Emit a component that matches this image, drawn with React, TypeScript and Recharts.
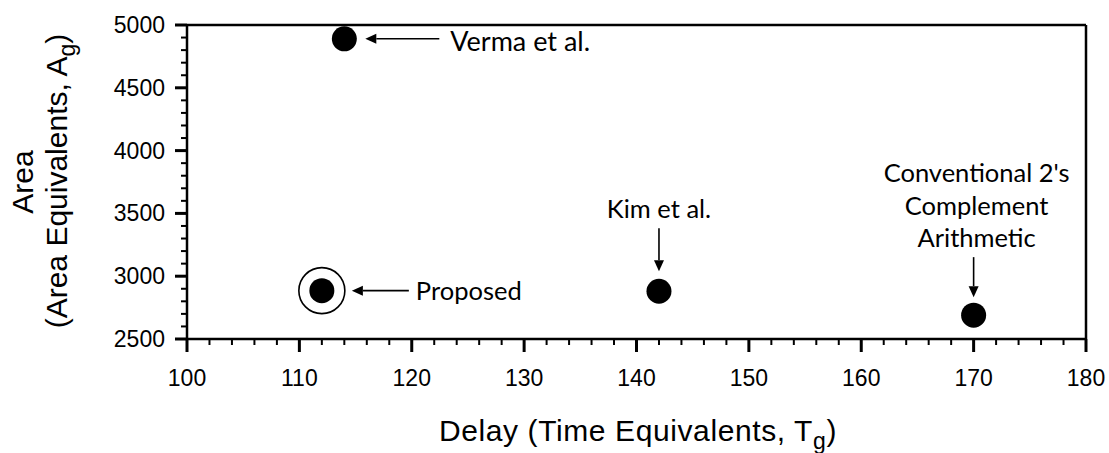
import { ScatterChart, Scatter, XAxis, YAxis, ReferenceLine } from "recharts"

// designs compared in the plot
const designs = ["Verma et al.", "Proposed", "Kim et al.", "Conventional 2's Complement Arithmetic"]
const delayTg = [114, 112, 142, 170]
const areaAg = [4890, 2885, 2880, 2690]

const xMajor = [100, 110, 120, 130, 140, 150, 160, 170, 180]
const yMajor = [2500, 3000, 3500, 4000, 4500, 5000]
// minor ticks every 2 Tg / 100 Ag
const xTicks = Array.from({ length: 41 }, (_, i) => 100 + i * 2)
const yTicks = Array.from({ length: 26 }, (_, i) => 2500 + i * 100)

const data = designs.map((name, i) => ({ name, delay: delayTg[i], area: areaAg[i] }))

const axisFont = "'Liberation Sans', Arial, sans-serif"
const noteFont = "Lato, 'Open Sans', sans-serif"

function Arrow({ x1, y1, x2, y2 }: { x1: number; y1: number; x2: number; y2: number }) {
  const ang = Math.atan2(y2 - y1, x2 - x1)
  const len = 11
  const hw = 5
  const bx = x2 - len * Math.cos(ang)
  const by = y2 - len * Math.sin(ang)
  const px = -Math.sin(ang) * hw
  const py = Math.cos(ang) * hw
  return (
    <g>
      <line x1={x1} y1={y1} x2={bx} y2={by} stroke="#000" strokeWidth={1.6} />
      <polygon points={`${x2},${y2} ${bx + px},${by + py} ${bx - px},${by - py}`} fill="#000" />
    </g>
  )
}

const noteText = { fontFamily: noteFont, fontSize: 25.5, fill: "#000" }

const renderPoint = (props: any) => {
  const { cx, cy, payload } = props
  const name = payload.name
  let note = null
  if (name === "Verma et al.") {
    note = (
      <g>
        <Arrow x1={cx + 95} y1={cy} x2={cx + 21} y2={cy} />
        <text x={cx + 106} y={cy + 12} {...noteText} fontSize={27}>{name}</text>
      </g>
    )
  } else if (name === "Proposed") {
    note = (
      <g>
        <circle cx={cx} cy={cy} r={23} fill="none" stroke="#000" strokeWidth={1.6} />
        <Arrow x1={cx + 87} y1={cy} x2={cx + 30} y2={cy} />
        <text x={cx + 94} y={cy + 9} {...noteText}>{name}</text>
      </g>
    )
  } else if (name === "Kim et al.") {
    note = (
      <g>
        <Arrow x1={cx} y1={cy - 63} x2={cx} y2={cy - 20} />
        <text x={cx} y={cy - 73} textAnchor="middle" {...noteText}>{name}</text>
      </g>
    )
  } else {
    const lines = ["Conventional 2's", "Complement", "Arithmetic"]
    note = (
      <g>
        <Arrow x1={cx} y1={cy - 58} x2={cx} y2={cy - 18} />
        {lines.map((l, i) => (
          <text key={l} x={cx + 3} y={cy - 133 + i * 32.5} textAnchor="middle" {...noteText}>{l}</text>
        ))}
      </g>
    )
  }
  return (
    <g>
      <circle cx={cx} cy={cy} r={12.5} fill="#000" />
      {note}
    </g>
  )
}

const XTick = (props: any) => {
  const { x, y, payload } = props
  const v = payload.value
  const major = xMajor.includes(v)
  return (
    <g>
      <line x1={x} x2={x} y1={y} y2={y + (major ? 13 : 6)} stroke="#000" strokeWidth={major ? 3 : 2} />
      {major && (
        <text x={x} y={y + 47} textAnchor="middle" fontFamily={axisFont} fontSize={23} fill="#000">{v}</text>
      )}
    </g>
  )
}

const YTick = (props: any) => {
  const { x, y, payload } = props
  const v = payload.value
  const major = yMajor.includes(v)
  return (
    <g>
      <line x1={x - (major ? 12 : 6)} x2={x} y1={y} y2={y} stroke="#000" strokeWidth={major ? 3 : 2} />
      {major && (
        <text x={x - 22} y={y + 8} textAnchor="end" fontFamily={axisFont} fontSize={23} fill="#000">{v}</text>
      )}
    </g>
  )
}

const XTitle = () => (
  <text x={638} y={441} textAnchor="middle" fontFamily={axisFont} fontSize={30} letterSpacing={0.6} fill="#000">
    Delay (Time Equivalents, T<tspan fontSize={23} dy={8}>g</tspan><tspan dy={-8}>)</tspan>
  </text>
)

const YTitle = () => (
  <g fontFamily={axisFont} fontSize={30} fill="#000">
    <text x={33} y={182} textAnchor="middle" transform="rotate(-90, 33, 182)">Area</text>
    <text x={67} y={181} textAnchor="middle" transform="rotate(-90, 67, 181)">
      (Area Equivalents, A<tspan fontSize={23} dy={8}>g</tspan><tspan dy={-8}>)</tspan>
    </text>
  </g>
)

export default function App() {
  return (
    <div style={{ position: "absolute", left: 0, top: 0, background: "#fff" }}>
      <ScatterChart width={1109} height={453} margin={{ top: 25, right: 23, bottom: 0, left: 0 }}>
        <XAxis
          type="number"
          dataKey="delay"
          domain={[100, 180]}
          ticks={xTicks}
          interval={0}
          height={114}
          tickSize={0}
          tickMargin={0}
          tickLine={false}
          axisLine={{ stroke: "#000", strokeWidth: 2.5 }}
          tick={<XTick />}
          label={<XTitle />}
        />
        <YAxis
          type="number"
          dataKey="area"
          domain={[2500, 5000]}
          ticks={yTicks}
          interval={0}
          width={187}
          tickSize={0}
          tickMargin={0}
          tickLine={false}
          axisLine={{ stroke: "#000", strokeWidth: 2.5 }}
          tick={<YTick />}
          label={<YTitle />}
        />
        <ReferenceLine y={5000} stroke="#000" strokeWidth={2.5} />
        <ReferenceLine x={180} stroke="#000" strokeWidth={2.5} />
        <Scatter data={data} shape={renderPoint} isAnimationActive={false} />
      </ScatterChart>
    </div>
  )
}
